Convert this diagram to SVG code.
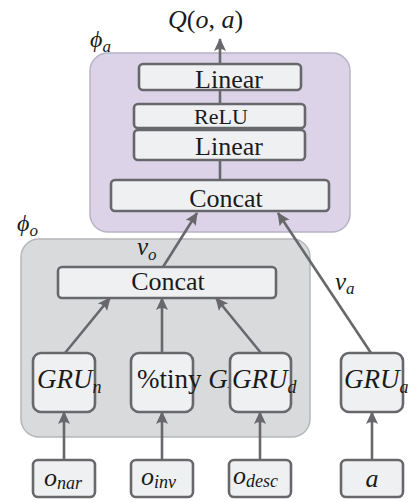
<svg xmlns="http://www.w3.org/2000/svg" width="416" height="502" viewBox="0 0 416 502" font-family="Liberation Serif">
<defs>
<marker id="ah" markerUnits="userSpaceOnUse" markerWidth="16" markerHeight="16" viewBox="-14 -8 16 16" refX="0" refY="0" orient="auto">
<path d="M1,0 L-12,-6 Q-8,0 -12,6 Z" fill="#68686c"/>
</marker>
</defs>
<style>
.grpA{fill:#dcd3e8;stroke:#b8b2c4;stroke-width:1.5}
.grpO{fill:#d9dadc;stroke:#b6b7ba;stroke-width:1.5}
.box{fill:#eff0f2;stroke:#68686c;stroke-width:2.6}
.edge{stroke:#68686c;stroke-width:2.6;fill:none}
.lab{fill:#1a1a1a}
.ital{font-style:italic;fill:#1a1a1a}
</style>
<rect x="0" y="0" width="416" height="502" fill="#ffffff"/>

<g id="phi_a_group">
<rect class="grpA" x="90" y="53" width="260" height="179" rx="18"/>
<text class="ital" x="90" y="47" font-size="24" font-family="Liberation Serif">ϕ<tspan font-size="17" dy="5">a</tspan></text>
</g>
<g id="phi_o_group">
<rect class="grpO" x="21" y="239" width="289" height="198" rx="18"/>
<text class="ital" x="17" y="231" font-size="24" font-family="Liberation Serif">ϕ<tspan font-size="17" dy="5">o</tspan></text>
</g>

<g id="connectors">
<line class="edge" x1="220" y1="180" x2="220" y2="160"/>
<line class="edge" x1="220" y1="90" x2="220" y2="104"/>
<line class="edge" x1="220" y1="64" x2="220" y2="39" marker-end="url(#ah)"/>
<line class="edge" x1="163" y1="267" x2="197" y2="213" marker-end="url(#ah)"/>
<line class="edge" x1="371" y1="353" x2="278" y2="213" marker-end="url(#ah)"/>
<line class="edge" x1="65" y1="353" x2="110" y2="298" marker-end="url(#ah)"/>
<line class="edge" x1="162" y1="353" x2="162" y2="298" marker-end="url(#ah)"/>
<line class="edge" x1="261" y1="353" x2="216" y2="298" marker-end="url(#ah)"/>
<line class="edge" x1="64" y1="460" x2="64" y2="412" marker-end="url(#ah)"/>
<line class="edge" x1="162" y1="460" x2="162" y2="412" marker-end="url(#ah)"/>
<line class="edge" x1="260" y1="460" x2="260" y2="412" marker-end="url(#ah)"/>
<line class="edge" x1="372" y1="460" x2="372" y2="412" marker-end="url(#ah)"/>
<text class="ital" x="137" y="255" font-size="25" font-family="Liberation Serif">ν<tspan font-size="17" dy="5">o</tspan></text>
<text class="ital" x="335" y="290" font-size="25" font-family="Liberation Serif">ν<tspan font-size="17" dy="4">a</tspan></text>
</g>

<g id="q_out">
<text class="lab" x="168" y="28" font-size="26" font-family="Liberation Serif"><tspan class="ital">Q</tspan>(<tspan class="ital">o</tspan>, <tspan class="ital">a</tspan>)</text>
</g>

<g id="linear_top">
<rect class="box" x="139" y="64" width="162" height="26" rx="4"/>
<text class="lab" x="229" y="88" font-size="26" text-anchor="middle" font-family="Liberation Serif">Linear</text>
</g>
<g id="relu">
<rect class="box" x="134" y="104" width="171" height="24" rx="4"/>
<text class="lab" x="221" y="124" font-size="22" text-anchor="middle" font-family="Liberation Serif">ReLU</text>
</g>
<g id="linear_mid">
<rect class="box" x="134" y="130" width="171" height="30" rx="4"/>
<text class="lab" x="229" y="155" font-size="26" text-anchor="middle" font-family="Liberation Serif">Linear</text>
</g>
<g id="concat_top">
<rect class="box" x="111" y="180" width="218" height="31" rx="4"/>
<text class="lab" x="226" y="207" font-size="26" text-anchor="middle" font-family="Liberation Serif">Concat</text>
</g>
<g id="concat_low">
<rect class="box" x="58" y="267" width="218" height="31" rx="4"/>
<text class="lab" x="168" y="290" font-size="26" text-anchor="middle" font-family="Liberation Serif">Concat</text>
</g>

<g id="gru_n">
<rect class="box" x="33" y="353" width="62" height="59" rx="8"/>
<text class="ital" x="37" y="388" font-size="27" font-family="Liberation Serif">GRU<tspan font-size="18" dy="5">n</tspan></text>
</g>
<g id="gru_i">
<rect class="box" x="131" y="353" width="62" height="59" rx="8"/>
<text class="lab" x="137" y="388" font-size="27" font-family="Liberation Serif">%tiny <tspan class="ital">GRU</tspan><tspan class="ital" font-size="18" dy="5">i</tspan></text>
</g>
<g id="gru_d">
<rect class="box" x="230" y="353" width="61" height="59" rx="8"/>
<text class="ital" x="232" y="388" font-size="27" font-family="Liberation Serif">GRU<tspan font-size="18" dy="5">d</tspan></text>
</g>
<g id="gru_a">
<rect class="box" x="341" y="353" width="62" height="59" rx="8"/>
<text class="ital" x="344" y="388" font-size="27" font-family="Liberation Serif">GRU<tspan font-size="18" dy="5">a</tspan></text>
</g>

<g id="o_nar">
<rect class="box" x="33" y="460" width="62" height="37" rx="5"/>
<text class="ital" x="44" y="486" font-size="26" font-family="Liberation Serif">o<tspan font-size="18" dy="3">nar</tspan></text>
</g>
<g id="o_inv">
<rect class="box" x="131" y="460" width="62" height="37" rx="5"/>
<text class="ital" x="141" y="485" font-size="26" font-family="Liberation Serif">o<tspan font-size="18" dy="3">inv</tspan></text>
</g>
<g id="o_desc">
<rect class="box" x="229" y="460" width="62" height="37" rx="5"/>
<text class="ital" x="233" y="484" font-size="26" font-family="Liberation Serif">o<tspan font-size="18" dy="3">desc</tspan></text>
</g>
<g id="a_in">
<rect class="box" x="341" y="460" width="62" height="37" rx="5"/>
<text class="ital" x="372" y="487" font-size="26" text-anchor="middle" font-family="Liberation Serif">a</text>
</g>
</svg>
